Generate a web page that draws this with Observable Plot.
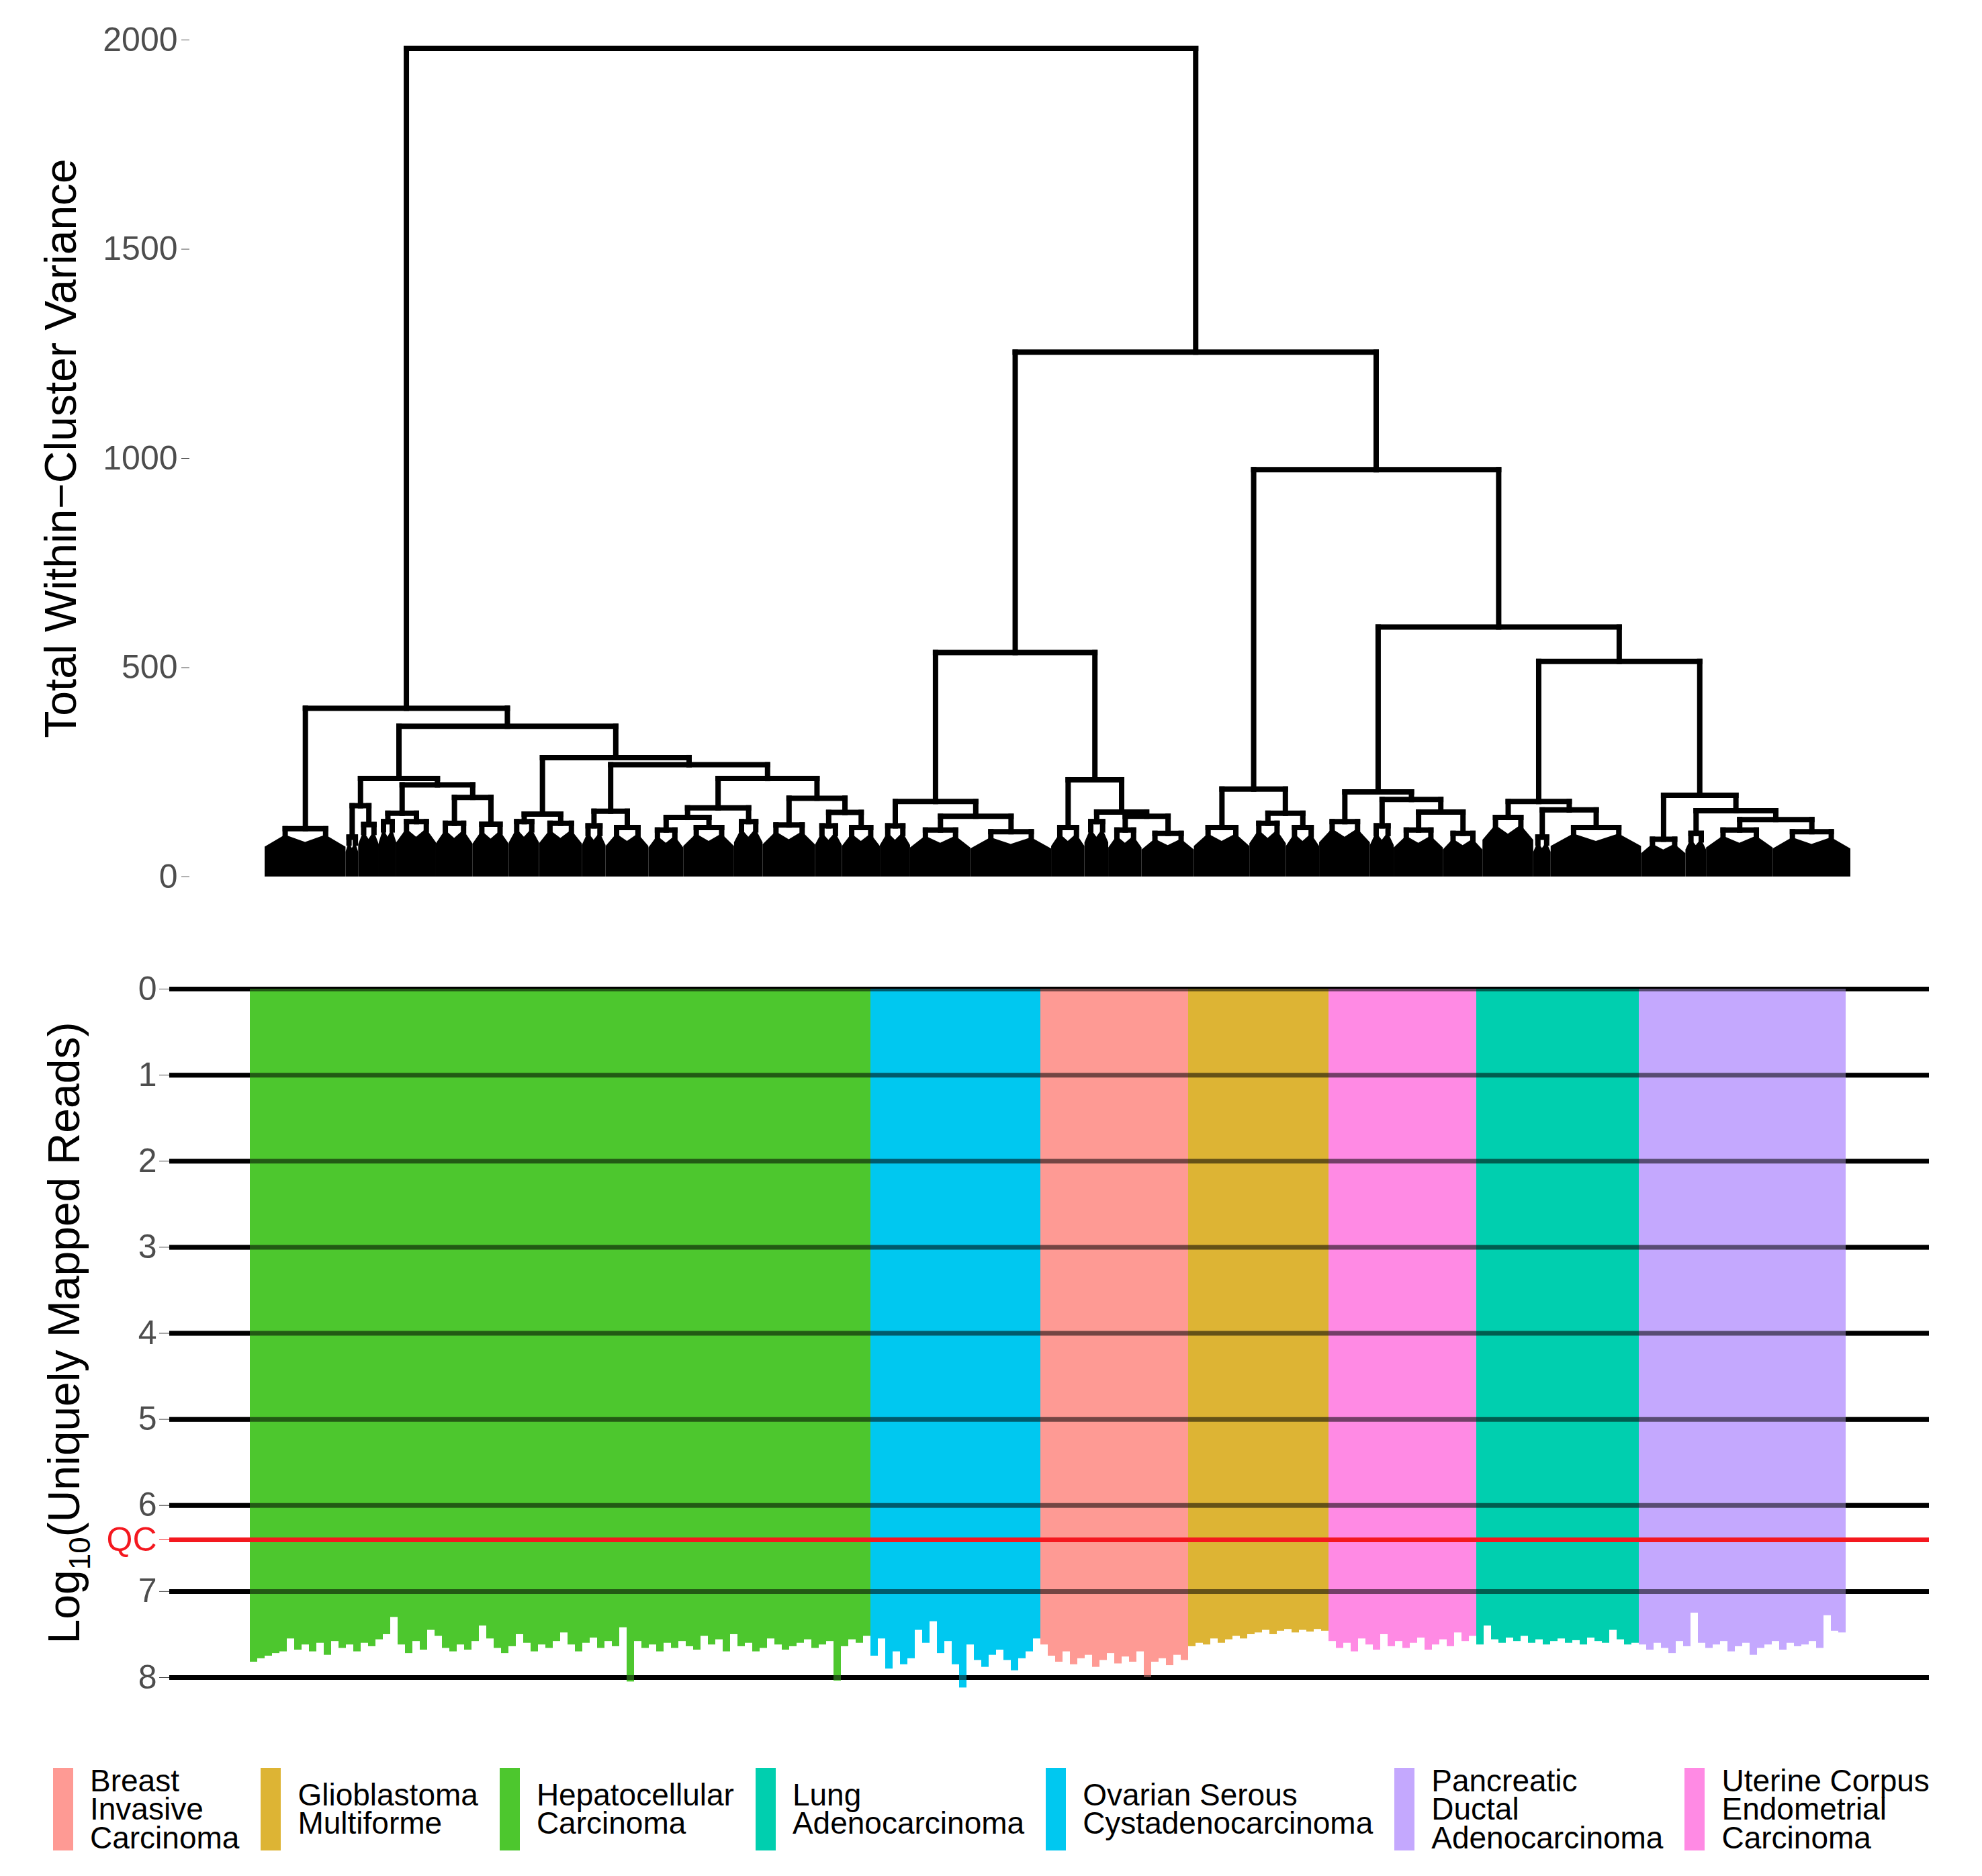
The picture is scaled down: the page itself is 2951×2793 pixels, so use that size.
<!DOCTYPE html>
<html><head><meta charset="utf-8">
<script src="https://cdn.jsdelivr.net/npm/d3@7"></script>
<script src="https://cdn.jsdelivr.net/npm/@observablehq/plot@0.6"></script>
<style>
html,body{margin:0;padding:0;background:#fff;overflow:hidden}
#chart{width:2951px;height:2793px;position:relative;font-family:"Liberation Sans",Arial,Helvetica,sans-serif;background:#fff}
#chart svg{position:absolute;left:0}
#legend{position:absolute;left:79px;top:2630px;display:flex;gap:32px;align-items:center}
.item{display:flex;align-items:center}
.sw{width:30px;height:123px;margin-right:25px;flex:none}
.lab{font-size:46px;line-height:0.92;color:#000;white-space:nowrap}
</style></head><body><div id="chart"></div>
<script>
// ---------- Dendrogram data (terminal clusters left-to-right, hclust-like merges) ----------
const termSizes   = [51,8,13,11,25,23,23,19,27,15,27,22,32,18,33,17,24,19,38,51,21,15,21,33,35,23,21,32,15,31,25,32,11,57,28,13,42,49];
const termHeights = [115,95,125,132,132,128,126,132,128,122,118,112,118,132,124,122,118,122,112,108,118,132,112,104,118,128,118,132,122,112,104,142,95,118,90,104,112,108];
// negative = terminal index, positive = earlier merge index
const mergeLeft    = [-2,-4,-6,2,1,-8,-10,-12,8,-16,-15,9,7,6,5,-1,-19,-18,-23,-22,-21,18,-26,-25,-30,-29,-28,-33,-32,-37,-36,-35,29,27,24,22,16];
const mergeRight   = [-3,-5,-7,3,4,-9,-11,-13,-14,-17,10,11,12,13,14,15,-20,17,-24,19,20,21,-27,23,-31,25,26,-34,28,-38,30,31,32,33,34,35,36];
const mergeHeights = [170,152,190,220,235,150,157,142,165,154,188,235,268,285,360,403,145,180,145,155,232,536,152,210,155,185,203,160,180,137,158,195,515,597,973,1254,1980];
const topTicks = [0,500,1000,1500,2000];
const topTitle = "Total Within\u2212Cluster Variance";

// ---------- Mapped reads data ----------
const legendTypes = ["Breast Invasive Carcinoma","Glioblastoma Multiforme","Hepatocellular Carcinoma","Lung Adenocarcinoma","Ovarian Serous Cystadenocarcinoma","Pancreatic Ductal Adenocarcinoma","Uterine Corpus Endometrial Carcinoma"];
const legendLines = [["Breast","Invasive","Carcinoma"],["Glioblastoma","Multiforme"],["Hepatocellular","Carcinoma"],["Lung","Adenocarcinoma"],["Ovarian Serous","Cystadenocarcinoma"],["Pancreatic","Ductal","Adenocarcinoma"],["Uterine Corpus","Endometrial","Carcinoma"]];
const typeColors = ["#FE9A94","#DDB434","#4DC72E","#00CFAF","#00C8F0","#C4A8FE","#FF8AE4"];
const barOrder = ["Hepatocellular Carcinoma","Ovarian Serous Cystadenocarcinoma","Breast Invasive Carcinoma","Glioblastoma Multiforme","Uterine Corpus Endometrial Carcinoma","Lung Adenocarcinoma","Pancreatic Ductal Adenocarcinoma"];
const hepatoReads = [7.82,7.78,7.75,7.72,7.70,7.55,7.68,7.62,7.70,7.60,
  7.74,7.58,7.66,7.62,7.70,7.60,7.64,7.56,7.50,7.30,
  7.62,7.72,7.58,7.68,7.45,7.52,7.66,7.70,7.62,7.68,
  7.58,7.40,7.55,7.66,7.72,7.64,7.50,7.60,7.70,7.62,
  7.66,7.58,7.48,7.62,7.70,7.60,7.54,7.66,7.58,7.64,
  7.42,8.05,7.58,7.66,7.62,7.70,7.60,7.66,7.58,7.64,
  7.68,7.52,7.62,7.56,7.70,7.50,7.64,7.60,7.70,7.66,
  7.55,7.62,7.68,7.64,7.60,7.56,7.66,7.62,7.58,8.04,
  7.64,7.56,7.60,7.52];
const ovarianReads = [7.75,7.55,7.90,7.70,7.85,7.78,7.45,7.60,7.35,7.72,7.58,7.85,8.12,7.62,7.80,7.88,7.74,7.68,7.80,7.92,7.78,7.70,7.55];
const breastReads = [7.62,7.75,7.82,7.70,7.85,7.78,7.74,7.88,7.80,7.72,7.84,7.76,7.82,7.70,8.00,7.82,7.78,7.86,7.74,7.80];
const glioReads = [7.64,7.60,7.62,7.55,7.60,7.56,7.52,7.55,7.50,7.48,7.45,7.50,7.46,7.44,7.48,7.45,7.47,7.44,7.46];
const uterineReads = [7.58,7.66,7.60,7.70,7.55,7.62,7.68,7.50,7.64,7.58,7.66,7.60,7.54,7.68,7.62,7.56,7.64,7.48,7.58,7.52];
const lungReads = [7.62,7.40,7.56,7.60,7.54,7.58,7.52,7.60,7.56,7.62,7.58,7.55,7.60,7.57,7.62,7.54,7.58,7.60,7.45,7.56,7.62,7.60];
const pancreaticReads = [7.62,7.68,7.60,7.66,7.72,7.58,7.64,7.25,7.60,7.66,7.62,7.58,7.70,7.64,7.60,7.74,7.66,7.62,7.58,7.68,7.60,7.64,7.62,7.58,7.66,7.28,7.46,7.48];
const gridTicks = [0,1,2,3,4,5,6,7,8];
const qcValue = 6.4;

const FONT = '"Liberation Sans", Arial, Helvetica, sans-serif';

// ---------- Build dendrogram geometry (in data units) ----------
let cum = 0;
const terms = termSizes.map((s, i) => { const L = cum; cum += s; return {L, R: cum, s, x: L + s / 2, h: termHeights[i]}; });
const nodes = [];
const ref = r => r < 0 ? terms[-r - 1] : nodes[r - 1];
mergeHeights.forEach((h, i) => {
  const a = ref(mergeLeft[i]), b = ref(mergeRight[i]);
  nodes.push({x: (a.x + b.x) / 2, h, a, b});
});
const segs = [];
nodes.forEach(n => {
  segs.push({x1: n.a.x, y1: n.h, x2: n.b.x, y2: n.h});
  segs.push({x1: n.a.x, y1: n.h, x2: n.a.x, y2: n.a.h});
  segs.push({x1: n.b.x, y1: n.h, x2: n.b.x, y2: n.b.h});
});
const fanPts = [];
terms.forEach((t, i) => {
  const sl = t.L + t.s / 4, sr = t.L + 3 * t.s / 4;
  segs.push({x1: sl, y1: t.h, x2: sr, y2: t.h});
  segs.push({x1: sl, y1: t.h, x2: sl, y2: t.h * 0.85});
  segs.push({x1: sr, y1: t.h, x2: sr, y2: t.h * 0.85});
  fanPts.push({id: i, x: t.L, y: t.h * 0.62}, {id: i, x: sl, y: t.h * 0.87}, {id: i, x: t.x, y: t.h * 0.72},
              {id: i, x: sr, y: t.h * 0.87}, {id: i, x: t.R, y: t.h * 0.62});
});

const topPlot = Plot.plot({
  width: 2951, height: 1365, marginTop: 59, marginBottom: 60, marginLeft: 282, marginRight: 150,
  style: {fontFamily: FONT, background: "transparent", overflow: "visible"},
  x: {domain: [0, cum], range: [394, 2755], axis: null},
  y: {domain: [0, 2000], axis: null, label: null},
  marks: [
    Plot.areaY(fanPts, {x: "x", y1: 0, y2: "y", z: "id", fill: "black", curve: "linear"}),
    Plot.link(segs, {x1: "x1", y1: "y1", x2: "x2", y2: "y2", stroke: "black", strokeWidth: 8, strokeLinecap: "square"}),
    Plot.axisY({ticks: topTicks, tickFormat: d => String(d), tickSize: 12, tickPadding: 6, fontSize: 50, color: "#4d4d4d", label: null}),
    Plot.text([topTitle], {frameAnchor: "left", textAnchor: "middle", lineAnchor: "middle", dx: -191, dy: -15, rotate: -90, fontSize: 66, fill: "black"})
  ]
});
topPlot.style.top = "0px";

// ---------- Bars ----------
const readsByType = [hepatoReads, ovarianReads, breastReads, glioReads, uterineReads, lungReads, pancreaticReads];
const samples = [];
barOrder.forEach((t, k) => readsByType[k].forEach(v => samples.push({id: samples.length, type: t, v})));

const bottomPlot = Plot.plot({
  width: 2951, height: 1200, marginTop: 107, marginBottom: 68, marginLeft: 252, marginRight: 79,
  style: {fontFamily: FONT, background: "transparent", overflow: "visible"},
  x: {type: "band", domain: samples.map(d => d.id), range: [366, 2753], padding: 0, axis: null},
  y: {domain: [0, 8], reverse: true, axis: null, label: null},
  color: {domain: legendTypes, range: typeColors},
  marks: [
    Plot.ruleY(gridTicks, {stroke: "black", strokeWidth: 7}),
    Plot.barY(samples, {x: "id", y1: 0, y2: "v", fill: "type"}),
    Plot.ruleY(gridTicks, {stroke: "black", strokeWidth: 7, strokeOpacity: 0.55}),
    Plot.ruleY([qcValue], {stroke: "#f4181f", strokeWidth: 7}),
    Plot.axisY({ticks: gridTicks, tickFormat: d => String(d), tickSize: 15, tickPadding: 4, fontSize: 50, color: "#4d4d4d", label: null}),
    Plot.axisY({ticks: [qcValue], tickFormat: () => "QC", tickSize: 15, tickPadding: 4, fontSize: 50, color: "#f4181f", label: null})
  ]
});
bottomPlot.style.top = "1365px";
const tt = d3.select(bottomPlot).append("text")
  .attr("transform", `translate(95,${(107 + 1132) / 2}) rotate(-90)`)
  .attr("text-anchor", "middle").attr("dy", "0.35em")
  .attr("font-size", 66).attr("font-family", FONT).attr("fill", "black");
tt.append("tspan").text("Log");
tt.append("tspan").attr("font-size", 44).attr("dy", 16).text("10");
tt.append("tspan").attr("dy", -16).text("(Uniquely Mapped Reads)");

const chart = document.getElementById("chart");
chart.appendChild(topPlot);
chart.appendChild(bottomPlot);

const legend = d3.select(chart).append("div").attr("id", "legend");
legendTypes.forEach((t, i) => {
  const it = legend.append("div").attr("class", "item");
  it.append("div").attr("class", "sw").style("background", typeColors[i]);
  it.append("div").attr("class", "lab").html(legendLines[i].join("<br>"));
});
</script></body></html>
